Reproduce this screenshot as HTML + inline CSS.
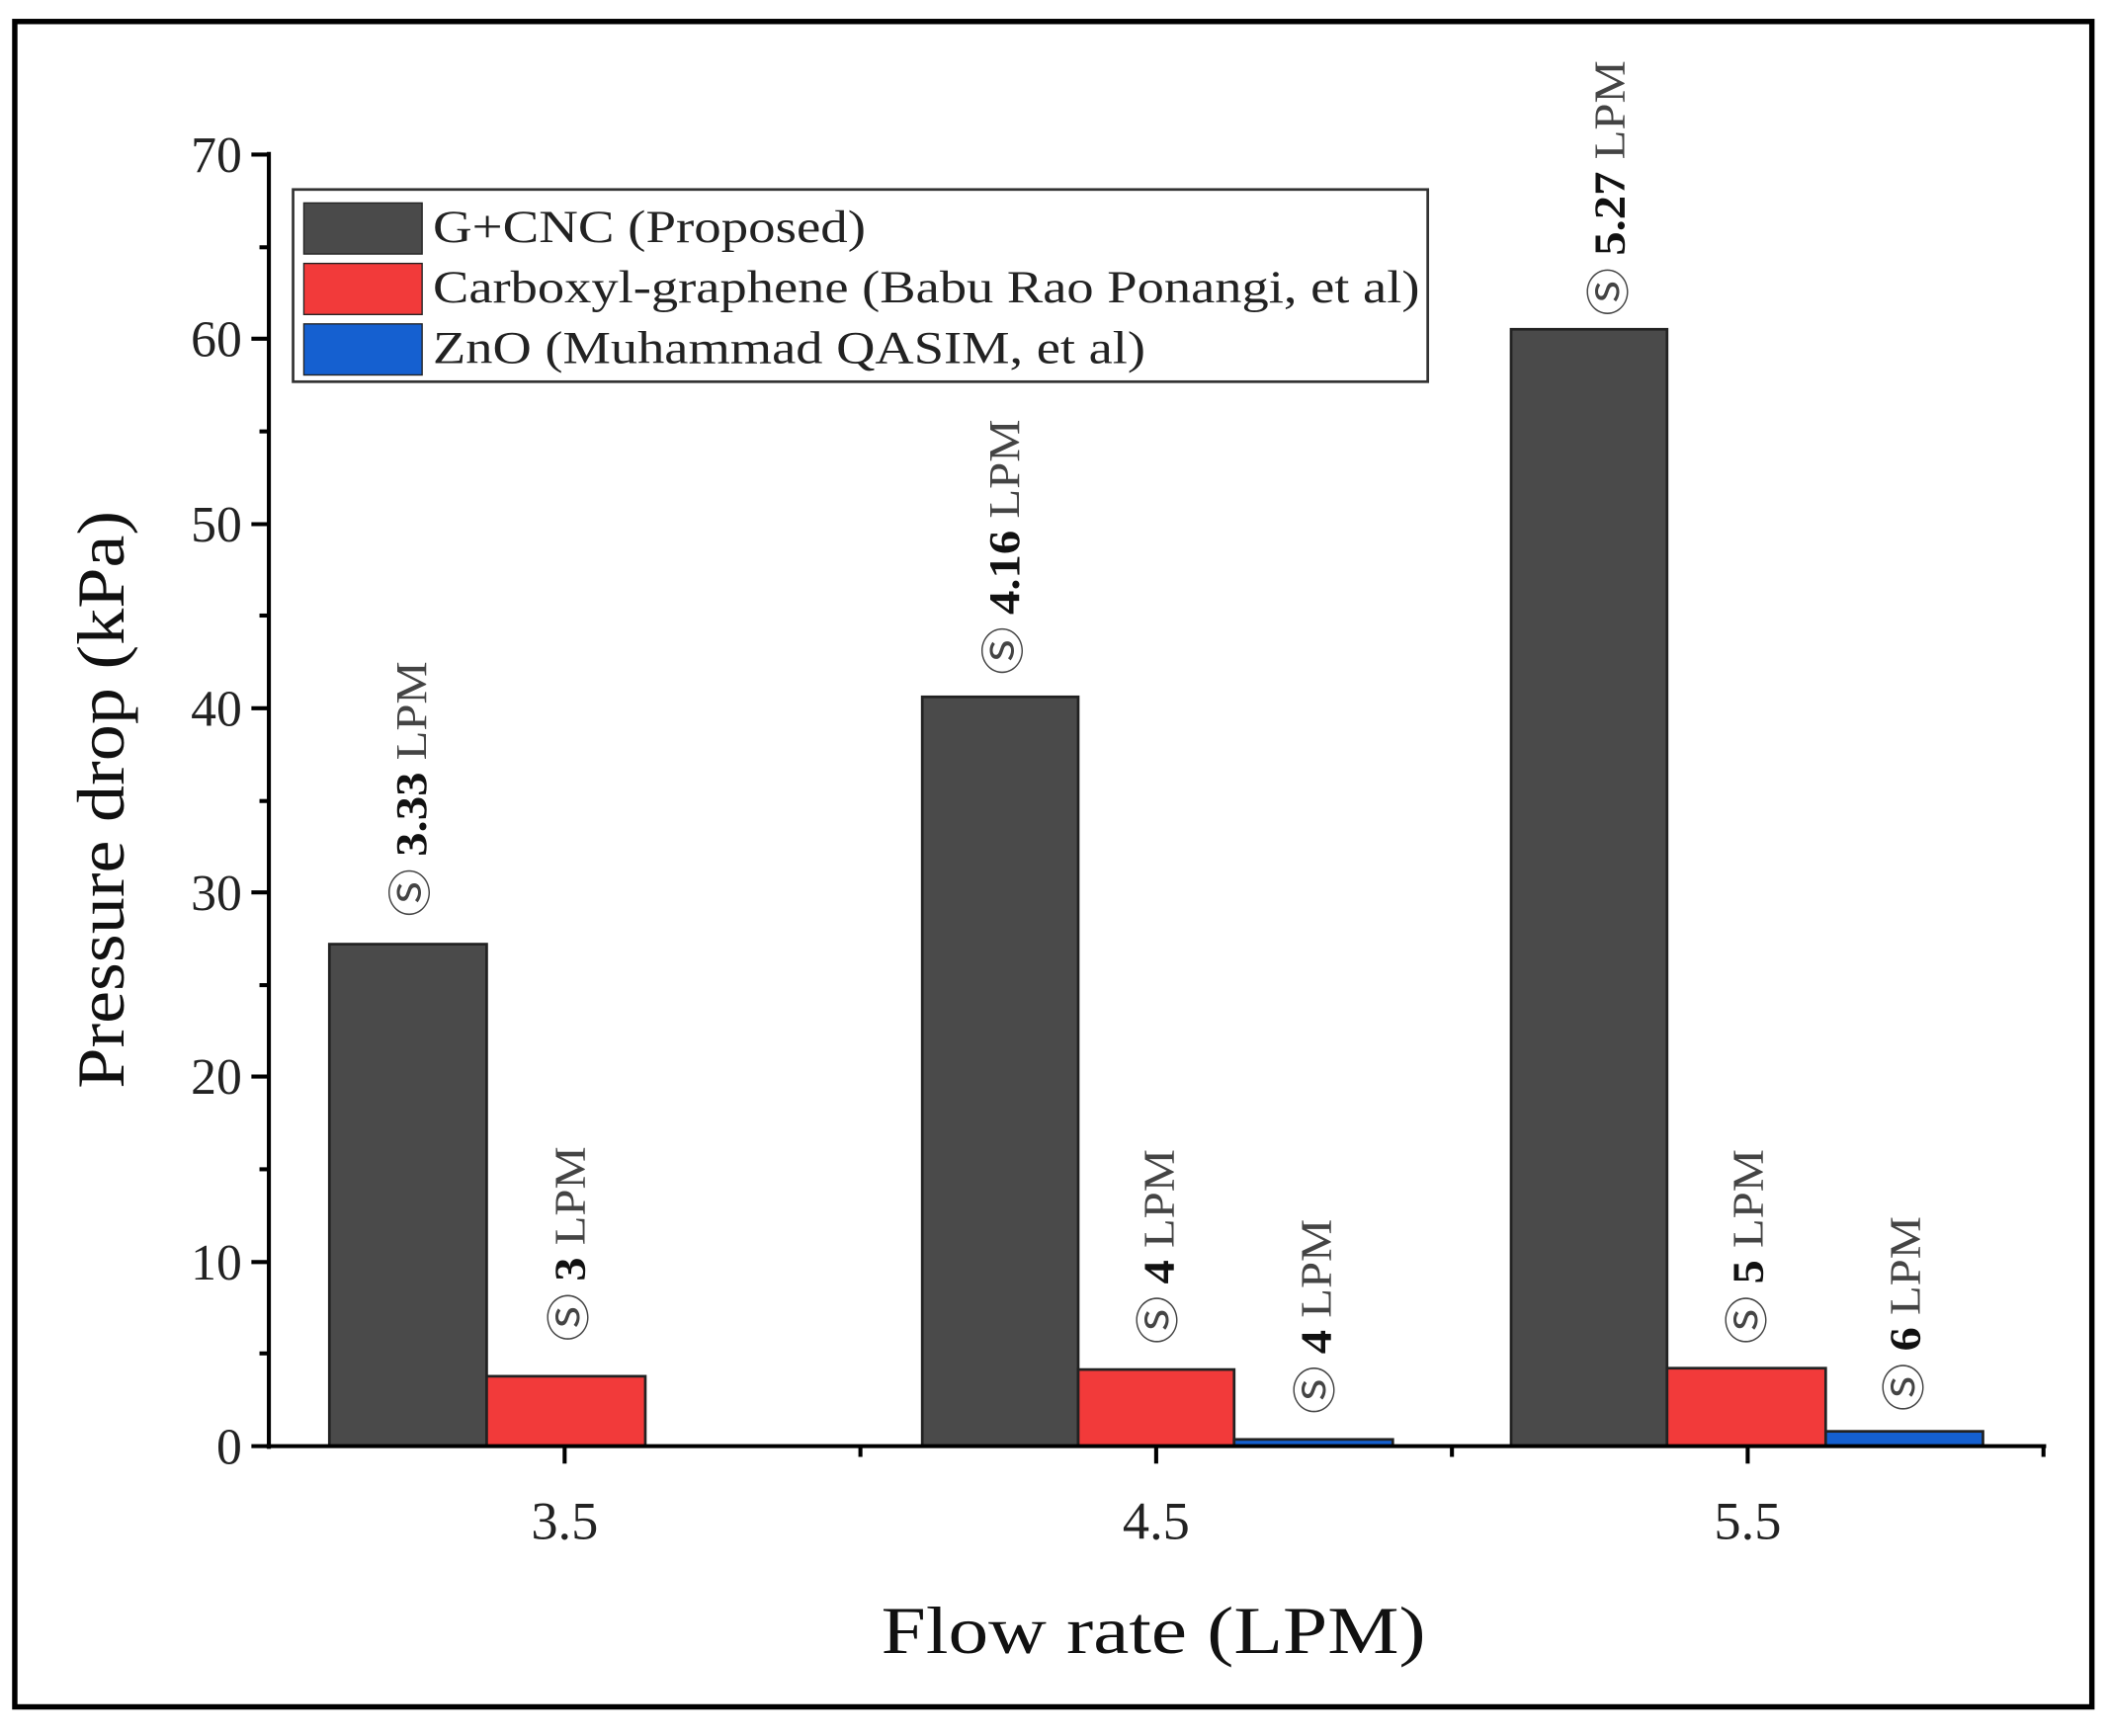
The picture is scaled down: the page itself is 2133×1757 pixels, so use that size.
<!DOCTYPE html>
<html><head><style>html,body{margin:0;padding:0;background:#fff}</style></head><body>
<svg width="2133" height="1752" viewBox="0 0 1568 1288" preserveAspectRatio="none" xmlns="http://www.w3.org/2000/svg" font-family="Liberation Serif, serif">
<rect x="0" y="0" width="1568" height="1288" fill="#fff"/>
<rect x="11" y="16" width="1545" height="1254" fill="none" stroke="#000" stroke-width="4"/>
<g stroke="#222" stroke-width="2">
<rect x="245" y="702.5" width="117" height="373.5" fill="#4a4a4a"/>
<rect x="362" y="1024" width="118" height="52" fill="#f23a3a"/>
<rect x="686" y="518.5" width="116" height="557.5" fill="#4a4a4a"/>
<rect x="802" y="1019" width="116" height="57" fill="#f23a3a"/>
<rect x="918" y="1071" width="118" height="5" fill="#1560d0"/>
<rect x="1124" y="245" width="116" height="831" fill="#4a4a4a"/>
<rect x="1240" y="1018" width="118" height="58" fill="#f23a3a"/>
<rect x="1358" y="1065" width="117" height="11" fill="#1560d0"/>
</g>
<g stroke="#000" stroke-width="3" fill="none">
<line x1="200" y1="113" x2="200" y2="1078"/>
<line x1="198" y1="1076" x2="1522" y2="1076"/>
<line x1="200" y1="115" x2="187" y2="115"/><line x1="200" y1="252" x2="187" y2="252"/><line x1="200" y1="390" x2="187" y2="390"/><line x1="200" y1="527" x2="187" y2="527"/><line x1="200" y1="664" x2="187" y2="664"/><line x1="200" y1="801" x2="187" y2="801"/><line x1="200" y1="939" x2="187" y2="939"/><line x1="200" y1="1076" x2="187" y2="1076"/>
<line x1="200" y1="184" x2="193" y2="184"/><line x1="200" y1="321" x2="193" y2="321"/><line x1="200" y1="458" x2="193" y2="458"/><line x1="200" y1="596" x2="193" y2="596"/><line x1="200" y1="733" x2="193" y2="733"/><line x1="200" y1="870" x2="193" y2="870"/><line x1="200" y1="1007" x2="193" y2="1007"/>
<line x1="420" y1="1076" x2="420" y2="1089"/><line x1="860" y1="1076" x2="860" y2="1089"/><line x1="1300" y1="1076" x2="1300" y2="1089"/>
<line x1="640" y1="1076" x2="640" y2="1084"/><line x1="1080" y1="1076" x2="1080" y2="1084"/><line x1="1520" y1="1076" x2="1520" y2="1084"/>
</g>
<g font-size="38" text-anchor="end" fill="#222">
<text x="180" y="128">70</text><text x="180" y="265">60</text><text x="180" y="403">50</text><text x="180" y="540">40</text><text x="180" y="677">30</text><text x="180" y="814">20</text><text x="180" y="952">10</text><text x="180" y="1089">0</text>
</g>
<g font-size="40" text-anchor="middle" fill="#222">
<text x="420" y="1145">3.5</text><text x="860" y="1145">4.5</text><text x="1300" y="1145">5.5</text>
</g>
<text x="858" y="1230" font-size="50" text-anchor="middle" fill="#111" textLength="405" lengthAdjust="spacingAndGlyphs">Flow rate (LPM)</text>
<text transform="translate(92,595) rotate(-90)" font-size="50" text-anchor="middle" fill="#111" textLength="430" lengthAdjust="spacingAndGlyphs">Pressure drop (kPa)</text>
<rect x="218" y="141" width="844" height="143" fill="#fff" stroke="#333" stroke-width="2"/>
<rect x="226" y="151" width="88" height="38" fill="#4a4a4a" stroke="#222"/>
<rect x="226" y="196" width="88" height="38" fill="#f23a3a" stroke="#222"/>
<rect x="226" y="241" width="88" height="38" fill="#1560d0" stroke="#222"/>
<g font-size="34" fill="#222">
<text x="322" y="180" textLength="322" lengthAdjust="spacingAndGlyphs">G+CNC (Proposed)</text>
<text x="322" y="225" textLength="734" lengthAdjust="spacingAndGlyphs">Carboxyl-graphene (Babu Rao Ponangi, et al)</text>
<text x="322" y="270" textLength="530" lengthAdjust="spacingAndGlyphs">ZnO (Muhammad QASIM, et al)</text>
</g>
<g font-size="33" fill="#444">
<text transform="translate(317,682) rotate(-90)" textLength="190" lengthAdjust="spacingAndGlyphs">Ⓢ <tspan font-weight="bold" fill="#111">3.33</tspan> LPM</text>
<text transform="translate(435,998) rotate(-90)" textLength="145" lengthAdjust="spacingAndGlyphs">Ⓢ <tspan font-weight="bold" fill="#111">3</tspan> LPM</text>
<text transform="translate(758,502) rotate(-90)" textLength="190" lengthAdjust="spacingAndGlyphs">Ⓢ <tspan font-weight="bold" fill="#111">4.16</tspan> LPM</text>
<text transform="translate(873,1000) rotate(-90)" textLength="145" lengthAdjust="spacingAndGlyphs">Ⓢ <tspan font-weight="bold" fill="#111">4</tspan> LPM</text>
<text transform="translate(990,1052) rotate(-90)" textLength="145" lengthAdjust="spacingAndGlyphs">Ⓢ <tspan font-weight="bold" fill="#111">4</tspan> LPM</text>
<text transform="translate(1208,235) rotate(-90)" textLength="190" lengthAdjust="spacingAndGlyphs">Ⓢ <tspan font-weight="bold" fill="#111">5.27</tspan> LPM</text>
<text transform="translate(1311,1000) rotate(-90)" textLength="145" lengthAdjust="spacingAndGlyphs">Ⓢ <tspan font-weight="bold" fill="#111">5</tspan> LPM</text>
<text transform="translate(1428,1050) rotate(-90)" textLength="145" lengthAdjust="spacingAndGlyphs">Ⓢ <tspan font-weight="bold" fill="#111">6</tspan> LPM</text>
</g>
</svg>
</body></html>
